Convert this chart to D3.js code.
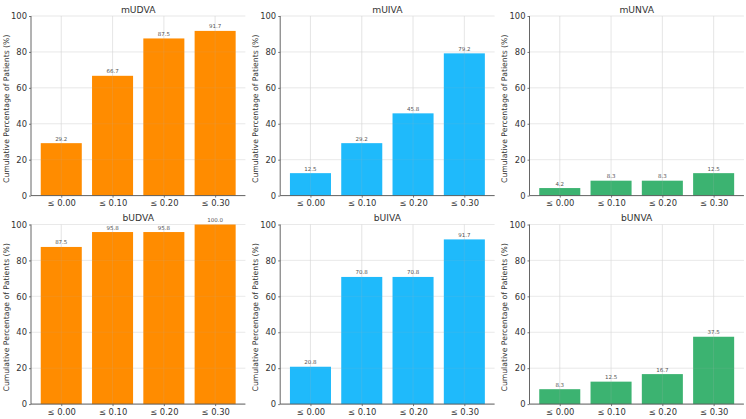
<!DOCTYPE html>
<html><head><meta charset="utf-8">
<script src="https://cdn.jsdelivr.net/npm/d3@7"></script>
<style>body{margin:0;background:#fff}svg{display:block}</style>
</head><body>
<svg id="c" width="746" height="419"></svg>
<script>
const categories = ["≤ 0.00", "≤ 0.10", "≤ 0.20", "≤ 0.30"];
const titles = ["mUDVA", "mUIVA", "mUNVA", "bUDVA", "bUIVA", "bUNVA"];
const mUDVA = [29.2, 66.7, 87.5, 91.7];
const mUIVA = [12.5, 29.2, 45.8, 79.2];
const mUNVA = [4.2, 8.3, 8.3, 12.5];
const bUDVA = [87.5, 95.8, 95.8, 100.0];
const bUIVA = [20.8, 70.8, 70.8, 91.7];
const bUNVA = [8.3, 12.5, 16.7, 37.5];
const yTicks = [0, 20, 40, 60, 80, 100];
const series = [mUDVA, mUIVA, mUNVA, bUDVA, bUIVA, bUNVA];
const colors = ["#FF8C00", "#1FBAFB", "#3CB371", "#FF8C00", "#1FBAFB", "#3CB371"];
const yLabel = "Cumulative Percentage of Patients (%)";

const svg = d3.select("#c");
const font = "DejaVu Sans, sans-serif";
const colX = [31, 280.2, 529.5];
const rowY = [16, 224.5];
const pw = 214.4, ph = 179.6;

series.forEach((vals, i) => {
  const c = i % 3, r = Math.floor(i / 3);
  const g = svg.append("g").attr("transform", `translate(${colX[c]},${rowY[r]})`);
  const idx = d3.range(categories.length);
  const x = d3.scaleLinear().domain([-0.59, 3.59]).range([0, pw]);
  const y = d3.scaleLinear().domain([0, 100]).range([ph, 0]);
  const bw = x(0.8) - x(0);

  g.append("g").selectAll("line.h").data(yTicks).join("line")
    .attr("x1", 0).attr("x2", pw).attr("y1", d => y(d)).attr("y2", d => y(d))
    .attr("stroke", "#ededed").attr("stroke-width", 0.8);
  g.append("g").selectAll("line.v").data(idx).join("line")
    .attr("x1", d => x(d)).attr("x2", d => x(d)).attr("y1", 0).attr("y2", ph)
    .attr("stroke", "#ededed").attr("stroke-width", 0.8);

  g.append("g").selectAll("rect").data(vals).join("rect")
    .attr("x", (d, j) => x(j) - bw / 2).attr("width", bw)
    .attr("y", d => y(d)).attr("height", d => ph - y(d))
    .attr("fill", colors[i]);

  g.append("g").selectAll("line.v2").data(idx).join("line")
    .attr("x1", d => x(d)).attr("x2", d => x(d)).attr("y1", 0).attr("y2", ph)
    .attr("stroke", "rgba(180,180,180,0.22)").attr("stroke-width", 0.8);
  g.append("g").selectAll("line.h2").data(yTicks).join("line")
    .attr("x1", 0).attr("x2", pw).attr("y1", d => y(d)).attr("y2", d => y(d))
    .attr("stroke", "rgba(180,180,180,0.15)").attr("stroke-width", 0.8);

  g.append("g").selectAll("text.v").data(vals).join("text")
    .attr("x", (d, j) => x(j)).attr("y", d => y(d) - 2.5)
    .attr("text-anchor", "middle").attr("font-family", font).attr("font-size", 5.5)
    .attr("fill", "#555").text(d => d.toFixed(1));

  const ya = g.append("g").call(d3.axisLeft(y).tickValues(yTicks).tickSize(2).tickPadding(2));
  const xa = g.append("g").attr("transform", `translate(0,${ph})`)
    .call(d3.axisBottom(x).tickValues(idx).tickFormat(d => categories[d]).tickSize(2).tickPadding(2.5));
  [ya, xa].forEach(a => {
    a.select(".domain").attr("stroke", "#555").attr("stroke-width", 0.9);
    a.selectAll(".tick line").attr("stroke", "#555").attr("stroke-width", 0.8);
    a.selectAll("text").attr("font-family", font).attr("font-size", 8.4).attr("fill", "#333");
  });
  ya.select(".domain").attr("d", `M0,0V${ph}`);
  xa.select(".domain").attr("d", `M0,0H${pw}`);

  g.append("text").attr("x", pw / 2).attr("y", -3.5).attr("text-anchor", "middle")
    .attr("font-family", font).attr("font-size", 9.2).attr("fill", "#333").text(titles[i]);

  g.append("text").attr("transform", `translate(-24.5,${ph / 2 + 3}) rotate(-90)`)
    .attr("text-anchor", "middle").attr("dominant-baseline", "middle")
    .attr("font-family", font).attr("font-size", 7.7).attr("fill", "#333").text(yLabel);
});
</script>
</body></html>
